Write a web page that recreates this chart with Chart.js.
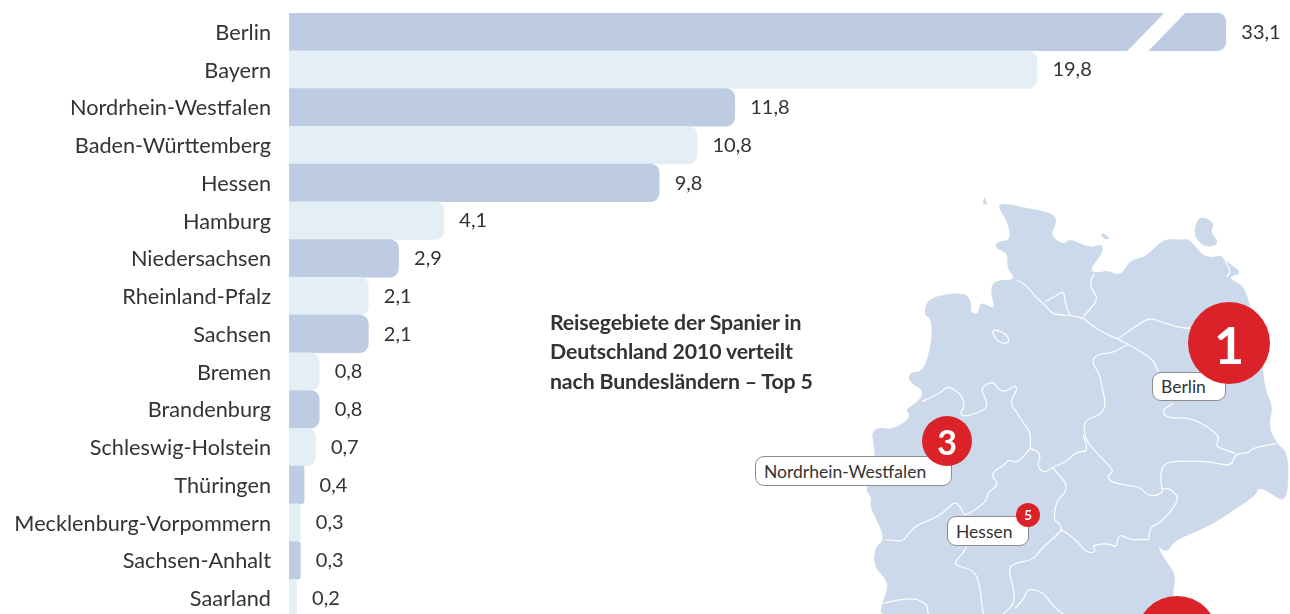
<!DOCTYPE html>
<html lang="de"><head><meta charset="utf-8">
<script src="https://cdn.jsdelivr.net/npm/chart.js@4/dist/chart.umd.min.js"></script>
<style>
html,body{margin:0;padding:0;width:1290px;height:614px;overflow:hidden;background:#fff}
#c{position:absolute;left:0;top:0;z-index:1}
svg{position:absolute;left:0;top:0;z-index:0}
#title{position:absolute;left:550px;top:307.5px;font:700 21.3px/29.5px Lato,sans-serif;color:#333;z-index:2;white-space:nowrap;letter-spacing:-.15px}
.box{position:absolute;box-sizing:border-box;background:#fff;border:1.4px solid #8c8c8c;border-radius:9px;font:17.5px Lato,sans-serif;color:#333;z-index:2;padding-left:8px;white-space:nowrap}
.dot{position:absolute;border-radius:50%;background:#dc2229;color:#fff;font-family:Lato,sans-serif;font-weight:700;text-align:center;z-index:3}
</style></head><body>
<svg width="1290" height="614" aria-hidden="true">
<g transform="translate(860 190) scale(.33333)">
<path fill="#cbd9ea" d="M410 45L440 40L500 55L540 60L585 75L590 100L570 135L610 165L630 145L690 175L730 160L725 195L690 235L705 250L745 240L780 260L810 210L860 200L910 145L970 150L985 145L1010 175L1040 205L1085 195L1100 215L1150 250L1100 262L1150 285L1165 330L1175 360L1205 500L1215 600L1240 650L1225 710L1250 760L1285 790L1285 900L1270 935L1240 915L1195 890L1190 915L1100 975L1060 1000L1000 1030L945 1050L920 1090L890 1065L915 1110L950 1155L935 1220L960 1290L60 1290L65 1240L90 1180L40 1130L45 1070L75 1050L50 990L30 950L35 920L15 900L40 860L45 800L40 760L35 725L60 710L90 720L140 695L150 670L135 660L180 630L190 600L145 575L150 545L190 545L215 460L215 385L190 375L205 320L320 305L335 345L330 365L355 375L360 335L390 350L405 355L390 300L405 270L470 270L440 235L445 190L405 175L410 155L455 150L440 90Z
M1010 90L1030 80L1065 100L1050 125L1080 160L1040 175L1000 140Z M720 125L755 145L730 150Z M378 15L365 40L385 45L375 30Z"/>
<g fill="none" stroke="#fff" stroke-width="3.6" stroke-linejoin="round">
<path d="M470 270L495 280L525 320L555 345L575 370L600 375L630 375L670 385"/>
<path d="M555 335L600 310L612 305L615 340L630 375"/>
<path d="M705 250L692 265L692 295L712 320L705 340L670 380"/>
<path d="M670 385L700 410L735 430L770 445L800 460L850 490L880 510L895 545"/>
<path d="M775 445L820 415L865 382L910 398L985 420L1170 400"/>
<path d="M805 462L760 490L720 490L692 510L720 555L725 590L738 640L725 675L670 690L675 740L690 765"/>
<path d="M670 735L680 765L680 785L650 785L620 815L575 832L555 850L530 830L545 790L510 775"/>
<path d="M510 775L515 730L490 700L470 665L455 650L455 625L472 600L465 585L440 605L415 600L405 577L380 580L362 600L380 630L380 655L350 670L310 680L300 670L315 650L305 615L265 585L240 610L185 635"/>
<path d="M510 775L500 790L470 820L445 808L435 825L405 840L395 860L412 875L410 890L385 905L378 935L350 955L330 970L310 975L305 955L285 935L270 950L240 975L210 990L160 1010L130 1055L100 1050L75 1050"/>
<path d="M578 832L600 860L620 880L615 910L590 930L580 990L600 1000L605 1020"/>
<path d="M605 1020L640 1040L680 1090L710 1085L695 1065L750 1060L770 1075L775 1030L810 1050L865 1048"/>
<path d="M865 1048L870 1010L890 1005L920 980L960 925L930 895L905 895"/>
<path d="M905 895L915 905L880 920L855 910L840 890L755 880L740 855L765 845L720 800L690 765"/>
<path d="M905 895L900 860L910 820L960 812L1050 815L1115 830L1125 790L1165 790L1175 775L1250 760"/>
<path d="M1125 790L1100 780L1065 770L1080 740L1045 712L990 682L920 685L905 660L940 640"/>
<path d="M605 1020L575 1050L540 1080L520 1110L460 1120L445 1140L460 1190L465 1240L430 1272"/>
<path d="M320 1070L310 1090L275 1125L345 1140L360 1190L365 1240L370 1272"/>
<path d="M465 1255L495 1225L500 1195L550 1205L580 1250L610 1272"/>
<path d="M70 1240L150 1220L200 1240L205 1272"/>
<path d="M390 415L440 430L450 460L415 460Z"/>
<path d="M1085 195L1115 240L1100 262"/>
</g></g></svg>
<canvas id="c" width="1290" height="617"></canvas>
<div id="title">Reisegebiete der Spanier in<br>Deutschland 2010 verteilt<br>nach Bundesländern – Top 5</div>
<div class="box" style="left:1152px;top:372px;width:74px;height:29px;line-height:28px">Berlin</div>
<div class="box" style="left:755px;top:456px;width:197px;height:30px;line-height:30px">Nordrhein-Westfalen</div>
<div class="box" style="left:947px;top:516px;width:82px;height:30px;line-height:30px">Hessen</div>
<div class="dot" style="left:1188px;top:302px;width:82px;height:82px;line-height:84px;font-size:52px">1</div>
<div class="dot" style="left:922px;top:416px;width:50px;height:50px;line-height:51px;font-size:34px">3</div>
<div class="dot" style="left:1016px;top:503px;width:24px;height:24px;line-height:24px;font-size:14px">5</div>
<div class="dot" style="left:1136px;top:596px;width:82px;height:82px"></div>
<script>
const categories=["Berlin","Bayern","Nordrhein-Westfalen","Baden-Württemberg","Hessen","Hamburg","Niedersachsen","Rheinland-Pfalz","Sachsen","Bremen","Brandenburg","Schleswig-Holstein","Thüringen","Mecklenburg-Vorpommern","Sachsen-Anhalt","Saarland"];
const values=[33.1,19.8,11.8,10.8,9.8,4.1,2.9,2.1,2.1,0.8,0.8,0.7,0.4,0.3,0.3,0.2];
const axisBreakAt=24.8; // the Berlin bar is drawn with a broken (shortened) axis
const axisMax=26.5;
const barColors=["#bdcce3","#e3eef5"];
const ink="#333";
const fontFamily="Lato, sans-serif";
const fmt=v=>v.toFixed(1).replace(".",",");
// soften the hand-traced map outlines
document.querySelectorAll("svg path").forEach(p=>{
  const out=p.getAttribute("d").split("M").filter(s=>s.trim()).map(s=>{
    const closed=/Z/.test(s);
    const pts=s.replace(/Z/g,"").trim().split("L").map(q=>q.trim().split(/\s+/).map(Number));
    const mid=(a,b)=>[(a[0]+b[0])/2,(a[1]+b[1])/2];
    if(closed){
      const n=pts.length;let st=mid(pts[n-1],pts[0]),d="M"+st;
      pts.forEach((q,i)=>{d+="Q"+q+" "+mid(q,pts[(i+1)%n])});
      return d+"Z";
    }
    let d="M"+pts[0];
    for(let i=1;i<pts.length-1;i++)d+="Q"+pts[i]+" "+mid(pts[i],pts[i+1]);
    return d+"L"+pts[pts.length-1];
  }).join(" ");
  p.setAttribute("d",out);
});
const annotate={id:"annotate",afterDatasetsDraw(ch){
  const {ctx,scales:{x,y}}=ch;
  ctx.save();
  ctx.font="20px "+fontFamily;ctx.fillStyle=ink;ctx.textAlign="left";ctx.textBaseline="middle";
  values.forEach((v,i)=>ctx.fillText(fmt(v),x.getPixelForValue(Math.min(v,axisBreakAt))+15.5,y.getPixelForValue(i)+0.2));
  // break mark on the Berlin bar
  const e=x.getPixelForValue(axisBreakAt),yc=y.getPixelForValue(0),h=19.5;
  ctx.fillStyle="#fff";ctx.beginPath();
  ctx.moveTo(e-99,yc+h);ctx.lineTo(e-78,yc+h);ctx.lineTo(e-40,yc-h);ctx.lineTo(e-61,yc-h);ctx.closePath();ctx.fill();
  ctx.restore();
}};
new Chart(document.getElementById("c"),{
  type:"bar",
  data:{labels:categories,datasets:[{
    data:values.map(v=>Math.min(v,axisBreakAt)),
    backgroundColor:values.map((v,i)=>barColors[i%2]),
    borderRadius:c=>{const v=values[c.dataIndex],r=v>=0.7?9:v>=0.3?3:0;return{topRight:r,bottomRight:r,topLeft:0,bottomLeft:0}},
    borderSkipped:false,barPercentage:1,categoryPercentage:1
  }]},
  options:{indexAxis:"y",responsive:false,animation:false,
    layout:{padding:{top:13,left:0,right:0,bottom:0}},
    plugins:{legend:{display:false},tooltip:{enabled:false},title:{display:false}},
    scales:{
      x:{display:false,min:0,max:axisMax},
      y:{afterFit:s=>{s.width=289;s.paddingTop=0;s.paddingBottom=0},grid:{display:false,drawTicks:false},border:{display:false},
        ticks:{padding:18,labelOffset:1,color:ink,autoSkip:false,font:{family:fontFamily,size:21.7}}}
    }},
  plugins:[annotate]
});
</script></body></html>
